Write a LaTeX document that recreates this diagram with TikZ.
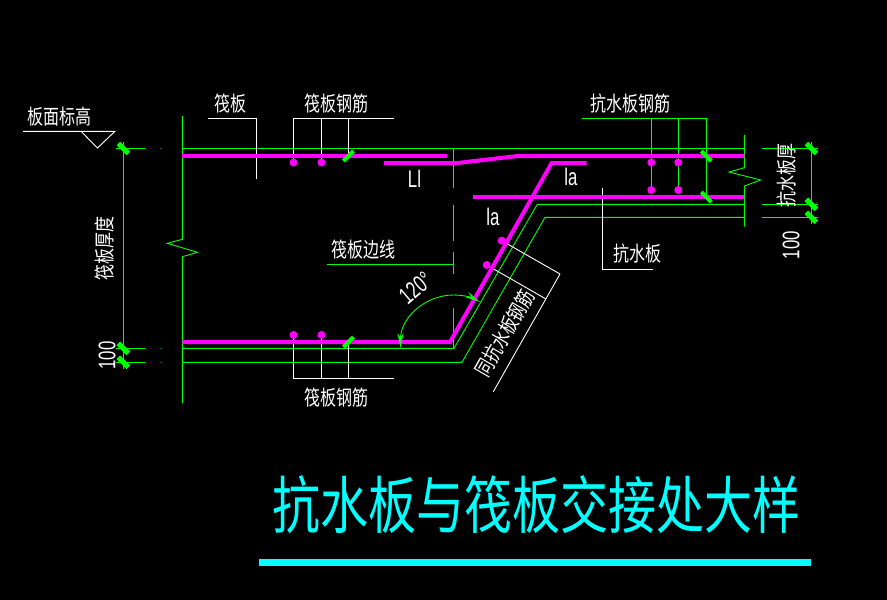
\documentclass[tikz,border=0pt]{standalone}
\usepackage{fontspec}
\setmainfont{Liberation Sans}
\newfontfamily\cjk{Noto Sans CJK SC}
\usetikzlibrary{arrows.meta}
\definecolor{cadgreen}{RGB}{0,255,0}
\definecolor{cadpink}{RGB}{255,0,255}
\definecolor{cadcyan}{RGB}{0,255,255}
\tikzset{
 thin line/.style={line width=.9pt},
 gline/.style={cadgreen, thin line},
 wline/.style={white, thin line},
 bar/.style={cadpink, line width=4pt},
 cnlabel/.style={text=white, inner sep=0pt, font=\cjk\fontsize{16}{16}\selectfont, yscale=1.3, transform shape},
 numlabel/.style={text=white, inner sep=0pt, font=\fontsize{24}{24}\selectfont, xscale=.7, transform shape},
}
\begin{document}
\begin{tikzpicture}[x=1pt, y=-1pt]
\fill[black] (0,0) rectangle (887,600);
\useasboundingbox (0,0) rectangle (887,600);
% slab outline
\draw[gline] (182.3,116)--(182.3,239.3)--(167.3,243.3)--(197.3,252.3)--(182.3,256.7)--(182.3,403);
\draw[gline] (744.3,135)--(744.3,167.7)--(729,172)--(760.7,180)--(744.3,186)--(744.3,226.7);
\draw[gline] (182.3,148.5)--(744.3,148.5);
\draw[gline] (182.3,348.3)--(454,348.3)--(537.3,204.3)--(744.3,204.3);
\draw[gline] (182.3,362.3)--(462,362.3)--(545,217.3)--(744.3,217.3);
% edge of raft
\draw[gline] (453.3,148.5)--++(0,39.5);
\draw[gline] (453.3,205)--++(0,35.7);
\draw[gline] (453.3,252)--++(0,22);
\draw[gline] (453.3,308)--++(0,40.3);
\draw[gline] (327,264.3)--(453.3,264.3);
% leaders
\draw[wline] (23,131.3)--(115,131.3)--(97.5,148)--(81,131.3);
\draw[wline] (208,118.3)--(256.3,118.3)--(256.3,179);
\draw[wline] (293.5,162.5)--(293.5,118.3)--(394,118.3);
\draw[wline] (321.5,162.5)--(321.5,118.3);
\draw[wline] (348.5,156)--(348.5,118.3);
\draw[wline] (293.5,335)--(293.5,378.3)--(393.7,378.3);
\draw[wline] (321.5,335)--(321.5,378.3);
\draw[wline] (348.5,342)--(348.5,378.3);
\draw[wline] (602.3,188)--(602.3,269.3)--(652.7,269.3);
\draw[wline] (501.7,240.7)--(560,274);
\draw[wline] (486.7,265)--(546,299);
\draw[wline] (560,274)--(493.3,391.7);
\draw[gline] (582,118.3)--(706.3,118.3)--(706.3,197);
\draw[gline] (651.3,118.3)--(651.3,190);
\draw[gline] (678.3,118.3)--(678.3,190);
% rebars
\draw[bar] (182.3,156)--(446.7,156);
\draw[bar] (384,163)--(457,163)--(518,156)--(744.3,156);
\draw[bar] (182.3,342)--(450,342)--(551.7,163)--(586.7,163);
\draw[bar] (473,197)--(744.3,197);
\foreach \x in {293.5,321.5} {
 \fill[cadpink] (\x,162.5) circle (4);
 \fill[cadpink] (\x,335) circle (4);
}
\foreach \x in {651.3,678.3} {
 \fill[cadpink] (\x,162.5) circle (4);
 \fill[cadpink] (\x,190) circle (4);
}
\fill[cadpink] (501.7,240.7) circle (4);
\fill[cadpink] (486.7,265) circle (4);
% dimension lines
\draw[gline] (123.3,142)--(123.3,369);
\draw[gline] (811.3,142)--(811.3,224);
\foreach \y in {148.5,348.3,362.3} {
 \draw[gline] (116,\y)--(145,\y);
 \fill[cadgreen] (161,\y) circle (.6);
 \draw[cadgreen, line width=5pt] (118.3,\y-5)--++(10,10);
}
\foreach \y in {148.5,204.3,217.3} {
 \draw[gline] (762,\y)--(818,\y);
 \draw[cadgreen, line width=5pt] (806.3,\y-5)--++(10,10);
}
\foreach \x/\y in {706.3/156,706.3/197} {
 \draw[cadgreen, line width=4pt] (\x-5,\y-5)--++(10,10);
}
\foreach \x/\y in {348.5/156,348.5/342} {
 \draw[cadgreen, line width=4pt] (\x-5,\y+5)--++(10,-10);
}
% angle
\draw[gline, {Stealth[length=15pt,width=6pt]}-{Stealth[length=15pt,width=6pt]}] (400.5,348) arc[start angle=180, end angle=300, radius=53];
% labels
\node[cnlabel] (datum) at (59.5,117) {板面标高};
\node[cnlabel] (raft) at (230,104) {筏板};
\node[cnlabel] (raftbartop) at (336.5,104) {筏板钢筋};
\node[cnlabel] (wallbar) at (630,104) {抗水板钢筋};
\node[cnlabel] (wall) at (637,254) {抗水板};
\node[cnlabel] (raftedge) at (363,250) {筏板边线};
\node[cnlabel] (raftbarbot) at (336.5,398) {筏板钢筋};
\node[rotate=60,cnlabel] (samebar) at (505,333) {同抗水板钢筋};
\node[rotate=90,cnlabel] (raftthick) at (105,248.5) {筏板厚度};
\node[rotate=90,cnlabel] (wallthick) at (787,175.5) {抗水板厚};
\node[numlabel] (lap) at (414.5,178.5) {Ll};
\node[numlabel] (anchorA) at (571,177) {la};
\node[numlabel] (anchorB) at (493,217) {la};
\node[rotate=90,numlabel] (coverA) at (107,355.5) {100};
\node[rotate=90,numlabel] (coverB) at (791,245) {100};
\node[rotate=40,numlabel] (angle) at (415.5,288) {120°};
% title
\node[text=cadcyan, inner sep=0pt, font=\cjk\fontsize{48}{48}\selectfont, yscale=1.3, transform shape] (title) at (536.5,505) {抗水板与筏板交接处大样};
\draw[cadcyan, line width=7pt] (259,562.5)--(811,562.5);
\end{tikzpicture}
\end{document}
